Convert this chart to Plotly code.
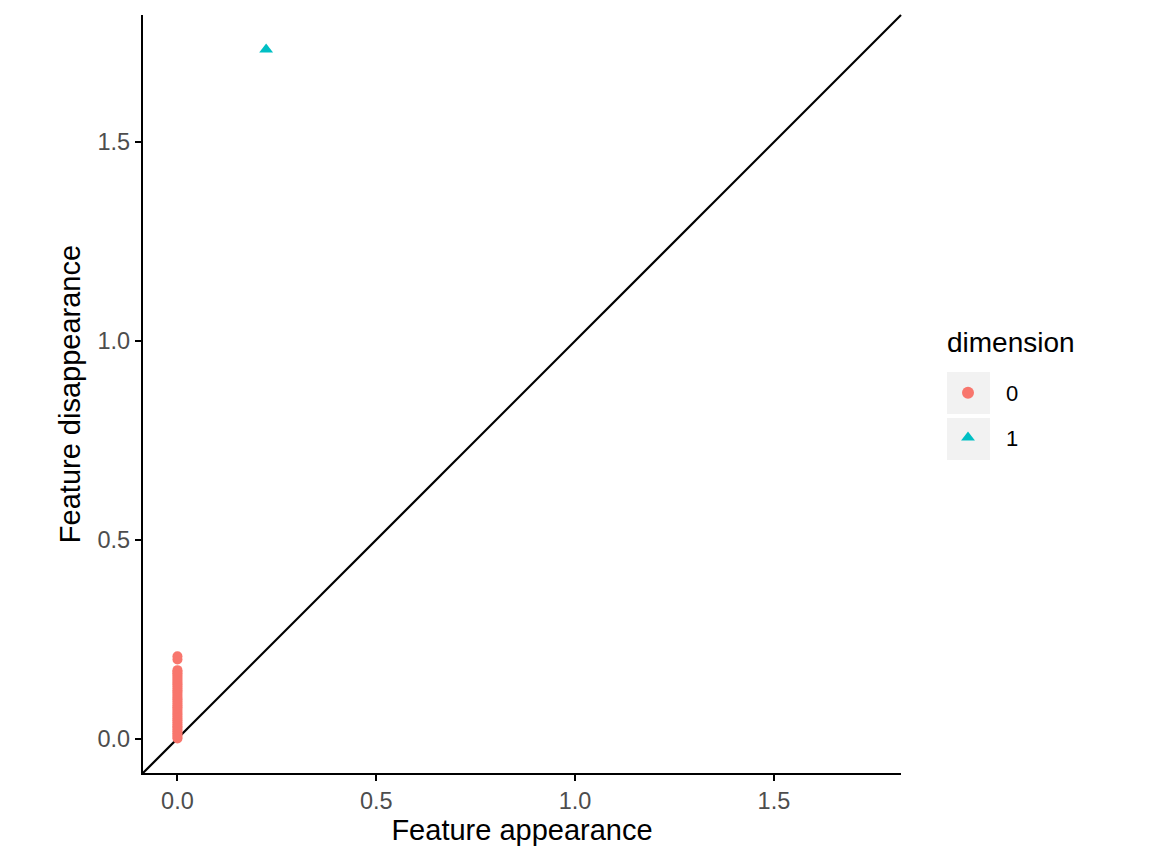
import plotly.graph_objects as go

# persistence diagram: birth / death of topological features
DIM0_BIRTH = [0.0] * 40
DIM0_DEATH = [
    0.000, 0.004, 0.009, 0.013, 0.018, 0.022, 0.027, 0.031, 0.036, 0.041,
    0.046, 0.050, 0.055, 0.060, 0.064, 0.069, 0.074, 0.079, 0.083, 0.088,
    0.093, 0.098, 0.102, 0.107, 0.112, 0.117, 0.121, 0.126, 0.131, 0.136,
    0.140, 0.145, 0.150, 0.155, 0.160, 0.164, 0.168, 0.172, 0.199, 0.207,
]
DIM1_BIRTH = [0.223]
DIM1_DEATH = [1.733]

ROJO = "#F8766D"
TURQUESA = "#00BFC4"
FUENTE = "Liberation Sans, Arial, Helvetica, sans-serif"

# limites comunes a ambos ejes (0..max con 5% de expansion, como ggplot)
lim = max(DIM0_DEATH + DIM1_DEATH + DIM0_BIRTH + DIM1_BIRTH)
rango = [-0.05 * lim, 1.05 * lim]

fig = go.Figure()
fig.add_trace(
    go.Scatter(
        x=DIM0_BIRTH,
        y=DIM0_DEATH,
        mode="markers",
        name="0",
        legendgroup="0",
        marker=dict(color=ROJO, size=10, symbol="circle"),
    )
)
fig.add_trace(
    go.Scatter(
        x=DIM1_BIRTH,
        y=DIM1_DEATH,
        mode="markers",
        name="1",
        legendgroup="1",
        marker=dict(color=TURQUESA, size=12, symbol="triangle-up"),
    )
)

# diagonal y = x de esquina a esquina
fig.add_shape(
    type="line",
    xref="x domain",
    yref="y domain",
    x0=0, y0=0, x1=1, y1=1,
    line=dict(color="black", width=2.2),
    layer="below",
)

W, H = 1152, 864
L, R, T, B = 143, 251, 15, 91
pw, ph = W - L - R, H - T - B


def px_x(p):
    return (p - L) / pw


def px_y(p):
    return (H - B - p) / ph


# fondos grises de las claves de la leyenda
for y0, y1 in [(372, 414), (418, 460)]:
    fig.add_shape(
        type="rect",
        xref="paper", yref="paper",
        x0=px_x(947), x1=px_x(990),
        y0=px_y(y1), y1=px_y(y0),
        fillcolor="#F2F2F2",
        line=dict(width=0),
        layer="below",
    )

# titulo de la leyenda
fig.add_annotation(
    text="dimension",
    xref="paper", yref="paper",
    x=px_x(945), y=px_y(342),
    xanchor="left", yanchor="middle",
    showarrow=False,
    font=dict(size=28, color="black", family=FUENTE),
)

fig.update_layout(
    width=W,
    height=H,
    margin=dict(l=L, r=R, t=T, b=B, autoexpand=False),
    paper_bgcolor="white",
    plot_bgcolor="white",
    font=dict(family=FUENTE, color="black"),
    showlegend=True,
    legend=dict(
        font=dict(size=22, color="black"),
        x=px_x(930),
        y=px_y(372),
        xanchor="left",
        yanchor="top",
        bgcolor="rgba(0,0,0,0)",
        tracegroupgap=13,
        traceorder="grouped",
        itemsizing="constant",
        itemwidth=66,
    ),
)

ejes = dict(
    range=rango,
    dtick=0.5,
    tick0=0,
    tickformat=".1f",
    showgrid=False,
    zeroline=False,
    showline=True,
    linecolor="black",
    linewidth=2.2,
    ticks="outside",
    ticklen=6,
    tickwidth=2,
    tickcolor="black",
    tickfont=dict(size=23.5, color="#4D4D4D", family=FUENTE),
    title_font=dict(size=29, color="black", family=FUENTE),
    automargin=False,
)
fig.update_xaxes(title_text="Feature appearance", title_standoff=6, **ejes)
fig.update_yaxes(title_text="Feature disappearance", title_standoff=8, **ejes)

fig.write_html(
    "out.html",
    config={"displayModeBar": False},
    post_script="document.body.style.margin='0';",
)
